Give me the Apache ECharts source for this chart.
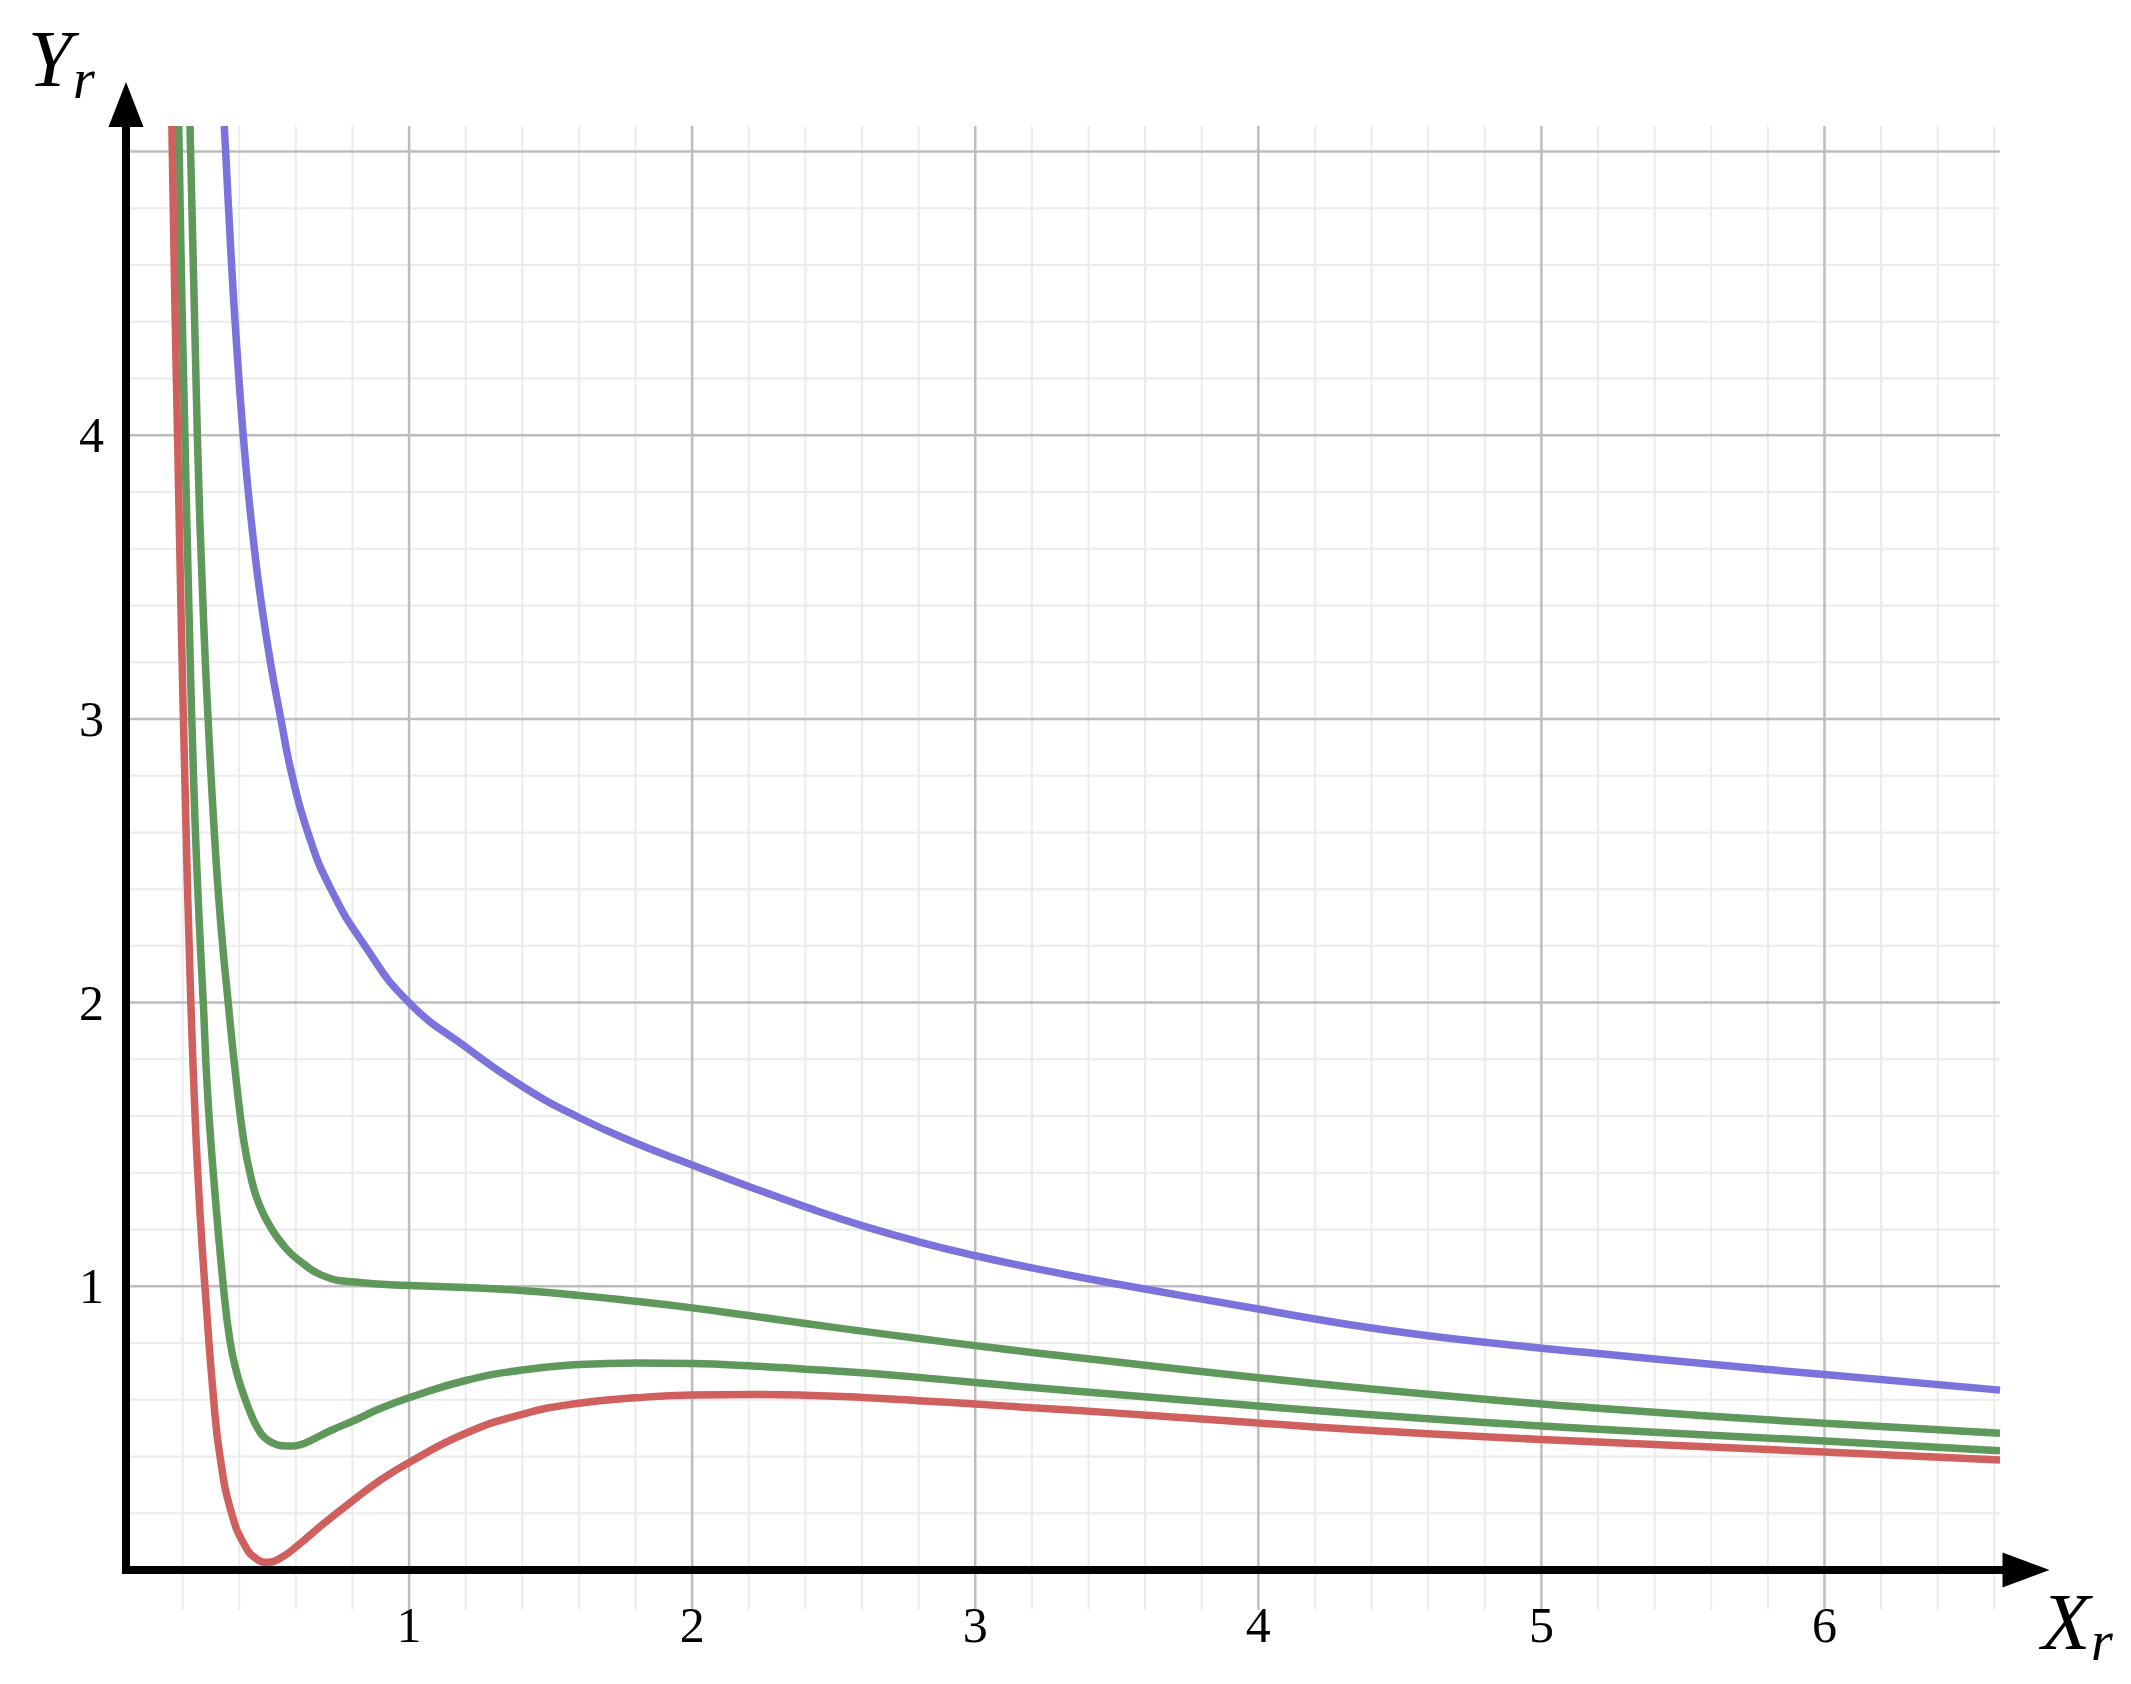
<!DOCTYPE html>
<html>
<head>
<meta charset="utf-8">
<script src="https://cdn.jsdelivr.net/npm/echarts@6/dist/echarts.min.js"></script>
<style>
html,body{margin:0;padding:0;background:#ffffff;}
#chart{width:2131px;height:1684px;}
</style>
</head>
<body>
<div id="chart"></div>
<script>
// ---- tick labels & ranges ----
const xTickLabels = [1, 2, 3, 4, 5, 6];
const yTickLabels = [1, 2, 3, 4];
const xRange = [0, 6.62];
const yRange = [0, 5.09];
const gridBelow = -0.14;
const gridStep = 0.2;

// ---- curves: [X_r, Y_r] ----
const blueCurve = [
  [0.347, 5.09], [0.352, 5.0], [0.373, 4.6], [0.392, 4.3], [0.414, 4.0], [0.434, 3.78],
  [0.455, 3.586], [0.475, 3.43], [0.51, 3.2], [0.547, 3.0], [0.585, 2.808], [0.641, 2.604],
  [0.72, 2.408], [0.844, 2.2], [1.0, 2.0], [1.205, 1.84], [1.408, 1.70], [1.6, 1.595],
  [1.8, 1.505], [2.0, 1.428], [2.2, 1.352], [2.4, 1.28], [2.6, 1.214], [2.8, 1.157],
  [3.0, 1.108], [3.2, 1.065], [3.5, 1.008], [4.0, 0.92], [4.2, 0.885], [4.4, 0.853],
  [4.6, 0.826], [4.8, 0.803], [5.0, 0.782], [5.2, 0.763], [5.6, 0.725], [6.0, 0.689],
  [6.62, 0.634]
];
const greenUpperCurve = [
  [0.226, 5.09], [0.252, 4.0], [0.272, 3.4], [0.29, 3.0], [0.312, 2.6], [0.333, 2.3],
  [0.361, 2.0], [0.39, 1.72], [0.415, 1.52], [0.44, 1.39], [0.47, 1.29], [0.514, 1.203],
  [0.56, 1.14], [0.608, 1.094], [0.702, 1.035], [0.808, 1.015], [1.0, 1.003], [1.2, 0.996],
  [1.4, 0.985], [1.6, 0.968], [1.8, 0.947], [2.0, 0.924], [2.2, 0.897], [2.4, 0.869],
  [2.6, 0.842], [2.8, 0.816], [3.0, 0.791], [3.2, 0.767], [3.5, 0.733], [4.0, 0.678],
  [4.4, 0.638], [4.8, 0.602], [5.2, 0.57], [6.0, 0.517], [6.62, 0.482]
];
const greenLowerCurve = [
  [0.186, 5.09], [0.197, 4.5], [0.208, 4.0], [0.222, 3.4], [0.24, 2.75], [0.258, 2.3],
  [0.273, 2.0], [0.287, 1.7], [0.31, 1.38], [0.344, 1.0], [0.367, 0.809], [0.39, 0.7],
  [0.42, 0.605], [0.445, 0.54], [0.467, 0.496], [0.49, 0.466], [0.52, 0.447], [0.55, 0.438],
  [0.585, 0.437], [0.62, 0.443], [0.65, 0.455], [0.72, 0.49], [0.808, 0.528], [0.9, 0.57],
  [1.0, 0.607], [1.2, 0.668], [1.4, 0.705], [1.6, 0.724], [1.8, 0.73], [2.0, 0.728],
  [2.2, 0.72], [2.4, 0.708], [2.6, 0.695], [2.8, 0.679], [3.0, 0.661], [3.2, 0.643],
  [3.5, 0.619], [4.0, 0.578], [4.4, 0.547], [4.8, 0.52], [5.2, 0.496], [6.0, 0.455],
  [6.62, 0.42]
];
const redCurve = [
  [0.162, 5.09], [0.172, 4.5], [0.182, 4.0], [0.194, 3.4], [0.21, 2.7], [0.226, 2.1],
  [0.244, 1.6], [0.262, 1.25], [0.281, 0.97], [0.308, 0.62], [0.332, 0.4], [0.373, 0.2],
  [0.42, 0.086], [0.46, 0.04], [0.502, 0.027], [0.55, 0.045], [0.605, 0.085], [0.7, 0.165],
  [0.808, 0.25], [0.9, 0.318], [1.0, 0.379], [1.2, 0.482], [1.4, 0.549], [1.6, 0.588],
  [1.8, 0.607], [2.0, 0.617], [2.2, 0.619], [2.4, 0.616], [2.6, 0.608], [2.8, 0.597],
  [3.0, 0.585], [3.2, 0.572], [3.5, 0.553], [4.0, 0.518], [4.4, 0.492], [4.8, 0.47],
  [5.2, 0.451], [6.0, 0.416], [6.62, 0.388]
];

// ---- gridline positions (every 0.2; integers are major) ----
const vGrid = [];
for (let k = 1; k * gridStep <= xRange[1] + 1e-9; k++) {
  const v = Math.round(k * gridStep * 100) / 100;
  vGrid.push([v, Math.abs(v - Math.round(v)) < 1e-6 ? 1 : 0]);
}
const hGrid = [];
for (let k = 1; k * gridStep <= yRange[1] + 1e-9; k++) {
  const v = Math.round(k * gridStep * 100) / 100;
  hGrid.push([v, Math.abs(v - Math.round(v)) < 1e-6 ? 1 : 0]);
}

const MAJOR = '#bdbdbd', MINOR = '#ebebeb';
function gridRenderer(orient) {
  return function (params, api) {
    const v = api.value(0), major = api.value(1);
    let p1, p2;
    if (orient === 'v') {
      p1 = api.coord([v, gridBelow]);
      p2 = api.coord([v, yRange[1]]);
    } else {
      p1 = api.coord([xRange[0], v]);
      p2 = api.coord([xRange[1], v]);
    }
    return {
      type: 'line',
      shape: { x1: p1[0], y1: p1[1], x2: p2[0], y2: p2[1] },
      style: { stroke: major ? MAJOR : MINOR, lineWidth: major ? 2.5 : 2 },
      z2: major ? 2 : 1
    };
  };
}

const SERIF = 'Liberation Serif';
const axisLineStyle = { color: '#000', width: 8, cap: 'square' };
const titleStyle = (text, size, align) => ({
  text: text, fontFamily: SERIF, fontStyle: 'italic', fontSize: size, fill: '#000',
  align: align, verticalAlign: 'middle', textAlign: align, textVerticalAlign: 'middle'
});
const curveSeries = (name, data, color) => ({
  name: name, type: 'line', data: data, showSymbol: false, smooth: 0.5, clip: true, silent: true, z: 3,
  lineStyle: { color: color, width: 7.5, join: 'round' }
});

const chart = echarts.init(document.getElementById('chart'), null, { renderer: 'svg' });
chart.setOption({
  animation: false,
  backgroundColor: '#ffffff',
  grid: { left: 126, right: 131, top: 126, bottom: 114, containLabel: false },
  xAxis: {
    type: 'value', min: xRange[0], max: xRange[1], interval: 1, z: 10,
    axisLine: { show: true, onZero: true, symbol: ['none', 'triangle'], symbolSize: [35, 47], symbolOffset: [0, 26], lineStyle: axisLineStyle },
    axisTick: { show: false },
    splitLine: { show: false },
    axisLabel: {
      margin: 30, fontFamily: SERIF, fontSize: 50, color: '#000',
      formatter: v => (xTickLabels.indexOf(v) >= 0 ? String(v) : '')
    }
  },
  yAxis: {
    type: 'value', min: yRange[0], max: yRange[1], interval: 1, z: 10,
    axisLine: { show: true, onZero: true, symbol: ['none', 'triangle'], symbolSize: [35, 45], symbolOffset: [0, 21.5], lineStyle: axisLineStyle },
    axisTick: { show: false },
    splitLine: { show: false },
    axisLabel: {
      margin: 22, fontFamily: SERIF, fontSize: 50, color: '#000', padding: [12, 0, 0, 0],
      formatter: v => (yTickLabels.indexOf(v) >= 0 ? String(v) : '')
    }
  },
  graphic: [
    { type: 'text', x: 50, y: 59, silent: true, style: titleStyle('Y', 80, 'center') },
    { type: 'text', x: 73, y: 79, silent: true, style: titleStyle('r', 56, 'left') },
    { type: 'text', x: 2066, y: 1622, silent: true, style: titleStyle('X', 80, 'center') },
    { type: 'text', x: 2091, y: 1641, silent: true, style: titleStyle('r', 56, 'left') }
  ],
  series: [
    { name: 'vgrid', type: 'custom', renderItem: gridRenderer('v'), data: vGrid, clip: false, silent: true, z: 0 },
    { name: 'hgrid', type: 'custom', renderItem: gridRenderer('h'), data: hGrid, clip: false, silent: true, z: 0 },
    curveSeries('blue', blueCurve, '#7b72dc'),
    curveSeries('greenUpper', greenUpperCurve, '#5f985b'),
    curveSeries('greenLower', greenLowerCurve, '#5f985b'),
    curveSeries('red', redCurve, '#d0605d')
  ]
});
</script>
</body>
</html>
